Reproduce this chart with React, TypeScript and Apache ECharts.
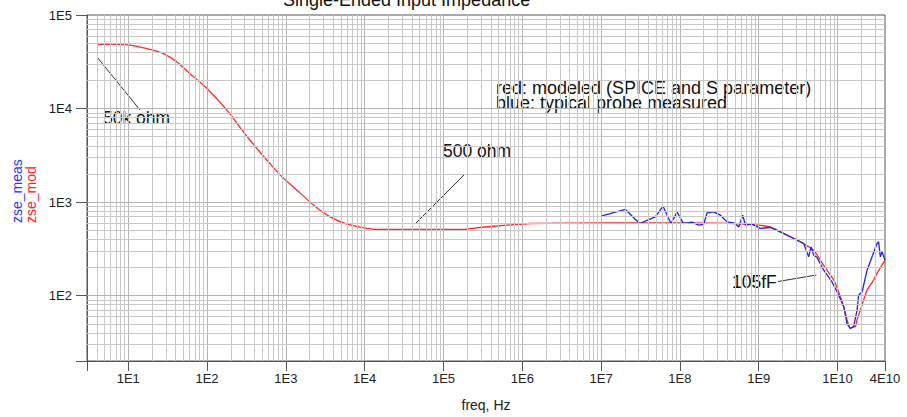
import React, { useEffect, useRef } from 'react';
import * as echarts from 'echarts';

// Modeled (red) input impedance
const redFreq = [4, 7.9, 10.6, 17.3, 28, 41.5, 67.5, 100, 179, 337, 850, 1384, 2249, 3659, 5957, 10700, 14300, 178000, 293000, 640000, 1.26e6, 1e7, 1e8, 3e8, 7.8e8, 1.4e9, 1.88e9, 3.37e9, 4.98e9, 6.67e9, 8.93e9, 1.09e10, 1.26e10, 1.32e10, 1.45e10, 1.6e10, 1.68e10, 1.77e10, 1.95e10, 2.14e10, 2.37e10, 2.87e10, 3.17e10, 4e10];
const redZ = [48600, 48600, 47700, 43700, 38700, 31500, 21800, 16400, 9600, 4780, 1940, 1340, 927, 695, 581, 523, 509, 509, 535, 567, 590, 600, 600, 597, 577, 543, 481, 376, 306, 210, 147, 97, 64.5, 55, 44.7, 46.5, 46.5, 55, 70, 89.6, 115, 147, 173, 240];

// Measured (blue) input impedance
const blueFreq = [1.0e7, 2.03e7, 3.08e7, 4.88e7, 6.1e7, 7.7e7, 9.2e7, 1.11e8, 1.42e8, 1.73e8, 2.0e8, 2.21e8, 2.68e8, 3.26e8, 3.96e8, 4.8e8, 5.6e8, 6.25e8, 6.8e8, 8.2e8, 1.05e9, 1.4e9, 1.88e9, 2.77e9, 3.72e9, 4.3e9, 4.61e9, 4.98e9, 5.5e9, 6.67e9, 8.51e9, 9.86e9, 1.2e10, 1.32e10, 1.45e10, 1.6e10, 1.77e10, 1.85e10, 2.05e10, 2.37e10, 2.74e10, 3.17e10, 3.32e10, 3.49e10, 3.67e10, 4.0e10];
const blueZ = [706, 834, 590, 695, 904, 590, 780, 590, 610, 566, 577, 767, 786, 724, 614, 600, 543, 724, 566, 581, 523, 535, 481, 408, 361, 260, 332, 271, 255, 187, 140, 110, 76, 50, 44.7, 46.5, 70, 101, 110, 187, 260, 361, 376, 260, 294, 240];

const xTickLabels = ['1E1', '1E2', '1E3', '1E4', '1E5', '1E6', '1E7', '1E8', '1E9', '1E10', '4E10'];
const xLabelValues = [10, 100, 1e3, 1e4, 1e5, 1e6, 1e7, 1e8, 1e9, 1e10, 3.99999e10];
const xTickValues = [3.00001, 10, 100, 1e3, 1e4, 1e5, 1e6, 1e7, 1e8, 1e9, 1e10, 3.99999e10];
const yTickLabels = ['1E2', '1E3', '1E4', '1E5'];

const X_MIN = 3;
const X_MAX = 4e10;
const Y_MIN = 20;
const Y_MAX = 1e5;

function gridValues(min: number, max: number) {
  const out: { v: number; major: boolean }[] = [];
  for (let e = -1; e <= 11; e++) {
    for (let k = 1; k <= 9; k++) {
      const v = k * Math.pow(10, e);
      if (v > min * 1.0001 && v < max * 0.9999) out.push({ v, major: k === 1 });
    }
  }
  return out;
}

function fmtLog(v: number, labels: string[]) {
  const e = Math.log10(v);
  const r = Math.round(e);
  if (Math.abs(e - r) < 1e-6) {
    const s = '1E' + r;
    return labels.includes(s) ? s : '';
  }
  const p = Math.floor(e + 1e-9);
  const m = v / Math.pow(10, p);
  const s = Math.round(m) + 'E' + p;
  return labels.includes(s) ? s : '';
}

export default function App() {
  const ref = useRef<HTMLDivElement>(null);
  useEffect(() => {
    const chart = echarts.init(ref.current!, null, { renderer: 'svg' });
    const font = "'Liberation Sans', Arial, sans-serif";
    const narrow = "'Liberation Sans Narrow', 'Liberation Sans', Arial, sans-serif";
    const gridLineData: any[] = [];
    gridValues(X_MIN, X_MAX).forEach((g) =>
      gridLineData.push({ xAxis: g.v, lineStyle: { color: g.major ? '#b4b4b4' : '#c8c8c8', width: 1, type: 'solid' } })
    );
    gridValues(Y_MIN, Y_MAX).forEach((g) =>
      gridLineData.push({ yAxis: g.v, lineStyle: { color: g.major ? '#b4b4b4' : '#c8c8c8', width: 1, type: 'solid' } })
    );

    const option: any = {
      animation: false,
      backgroundColor: '#ffffff',
      grid: {
        left: 87,
        right: 22,
        top: 15,
        bottom: 56,
        show: true,
        borderColor: '#555',
        borderWidth: 1,
        backgroundColor: 'transparent',
      },
      xAxis: {
        type: 'log',
        logBase: 10,
        min: X_MIN,
        max: X_MAX,
        name: 'freq, Hz',
        nameLocation: 'middle',
        nameGap: 37,
        nameTextStyle: { fontFamily: font, fontSize: 14, color: '#222' },
        axisLine: { lineStyle: { color: '#555', width: 1 } },
        axisTick: { length: 10, lineStyle: { color: '#555' }, customValues: xTickValues },
        axisLabel: {
          fontFamily: narrow,
          fontSize: 13,
          color: '#222',
          margin: 11,
          customValues: xLabelValues,
          formatter: (v: number) => fmtLog(v, xTickLabels),
        },
        splitLine: { show: false },
        minorTick: { show: false },
      },
      yAxis: {
        type: 'log',
        logBase: 10,
        min: Y_MIN,
        max: Y_MAX,
        splitNumber: 4,
        axisLine: { show: true, lineStyle: { color: '#555', width: 1 } },
        axisTick: { show: true, length: 11, lineStyle: { color: '#555' } },
        axisLabel: {
          fontFamily: narrow,
          fontSize: 13,
          color: '#222',
          margin: 15,
          formatter: (v: number) => fmtLog(v, yTickLabels),
        },
        splitLine: { show: false },
      },
      series: [
        {
          type: 'line',
          data: [],
          z: 1,
          silent: true,
          markLine: {
            silent: true,
            symbol: ['none', 'none'],
            label: { show: false },
            emphasis: { disabled: true },
            animation: false,
            data: gridLineData,
          },
        },
        {
          name: 'zse_mod',
          type: 'line',
          data: redFreq.map((f, i) => [f, redZ[i]]),
          showSymbol: false,
          smooth: 0.2,
          lineStyle: { color: '#ff2a2a', width: 1.3 },
          itemStyle: { color: '#ff2a2a' },
          z: 3,
        },
        {
          name: 'zse_meas',
          type: 'line',
          data: blueFreq.map((f, i) => [f, blueZ[i]]),
          showSymbol: false,
          lineStyle: { color: '#2222ee', width: 1.3 },
          itemStyle: { color: '#2222ee' },
          z: 4,
        },
      ],
      graphic: [
        {
          type: 'text',
          x: 283,
          y: 0,
          style: { text: 'Single-Ended Input Impedance', font: `18px ${font}`, fill: '#111', align: 'left', verticalAlign: 'middle' },
        },
        {
          type: 'text',
          x: 17,
          y: 223,
          rotation: Math.PI / 2,
          style: { text: 'zse_meas', font: `14px ${font}`, fill: '#3333ff', align: 'left', verticalAlign: 'middle' },
        },
        {
          type: 'text',
          x: 31,
          y: 223,
          rotation: Math.PI / 2,
          style: { text: 'zse_mod', font: `14px ${font}`, fill: '#ff2222', align: 'left', verticalAlign: 'middle' },
        },
        {
          type: 'text',
          x: 496,
          y: 80,
          style: {
            text: 'red: modeled (SPICE and S parameter)\nblue: typical probe measured',
            font: `18px ${font}`,
            lineHeight: 15.5,
            fill: '#111',
            align: 'left',
            verticalAlign: 'top',
          },
        },
        {
          type: 'text',
          x: 103,
          y: 118,
          style: { text: '50k ohm', font: `17.5px ${font}`, fill: '#111', align: 'left', verticalAlign: 'middle' },
        },
        {
          type: 'line',
          shape: { x1: 97, y1: 57, x2: 140, y2: 110 },
          style: { stroke: '#333', lineWidth: 1 },
        },
        {
          type: 'text',
          x: 443,
          y: 151,
          style: { text: '500 ohm', font: `17.5px ${font}`, fill: '#111', align: 'left', verticalAlign: 'middle' },
        },
        {
          type: 'line',
          shape: { x1: 465, y1: 174, x2: 416, y2: 223 },
          style: { stroke: '#333', lineWidth: 1 },
        },
        {
          type: 'text',
          x: 732,
          y: 282,
          style: { text: '105fF', font: `17.5px ${font}`, fill: '#111', align: 'left', verticalAlign: 'middle' },
        },
        {
          type: 'line',
          shape: { x1: 778, y1: 281.5, x2: 816.5, y2: 275 },
          style: { stroke: '#333', lineWidth: 1 },
        },
      ],
    };
    chart.setOption(option);
    return () => chart.dispose();
  }, []);
  return <div ref={ref} style={{ position: 'absolute', left: 0, top: 0, width: 907, height: 417 }} />;
}
